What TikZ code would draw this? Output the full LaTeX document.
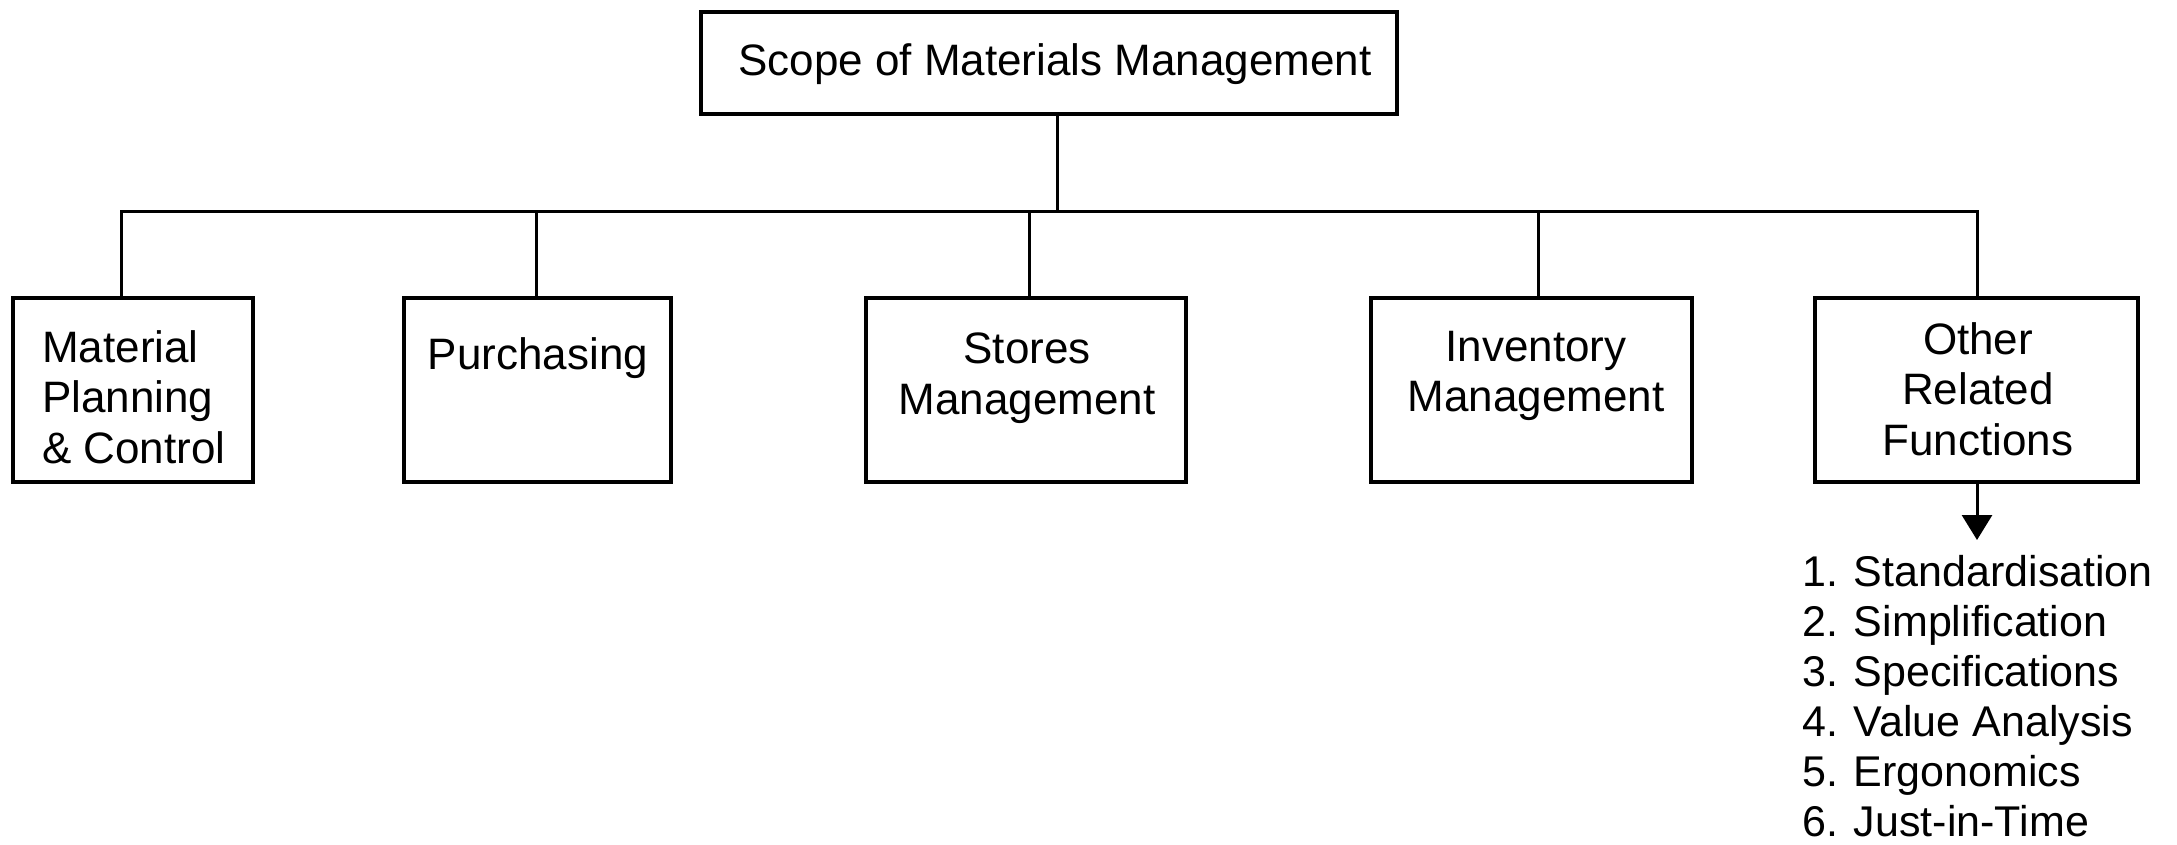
\documentclass[tikz,border=0pt]{standalone}
\usepackage{fontspec}
\setmainfont{Liberation Sans}
\usetikzlibrary{arrows.meta}
\tikzset{
  box/.style={draw, line width=3.2pt, inner sep=0pt, minimum height=184pt},
  lbl/.style={inner sep=0pt, font=\fontsize{44}{50.5}\selectfont},
  conn/.style={line width=3pt},
}
\begin{document}
\begin{tikzpicture}[x=1pt,y=-1pt]
\useasboundingbox (0,0) rectangle (2177,844);
% top box
\node[box, minimum width=696pt, minimum height=102pt] (top) at (1049,63) {};
\node[lbl, anchor=north] (toplbl) at (1055,43) {Scope of Materials Management};
% child boxes
\node[box, minimum width=240pt] (b1) at (133,390) {};
\node[box, minimum width=267pt] (b2) at (537.5,390) {};
\node[box, minimum width=320pt] (b3) at (1026,390) {};
\node[box, minimum width=321pt] (b4) at (1531.5,390) {};
\node[box, minimum width=323pt] (b5) at (1976.5,390) {};
% labels
\node[lbl, anchor=north west, align=left] (l1) at (42,330) {Material\\Planning\\\& Control};
\node[lbl, anchor=north] (l2) at (538,337) {Purchasing};
\node[lbl, anchor=north, align=center] (l3) at (1027,333) {Stores\\Management};
\node[lbl, anchor=north, align=center] (l4) at (1536,331) {Inventory\\Management};
\node[lbl, anchor=north, align=center] (l5) at (1978,322) {Other\\Related\\Functions};
% connectors
\coordinate (bus) at (1057,211);
\coordinate (tdrop) at ([xshift=8pt]top.south);
\coordinate (d1) at ([xshift=-12pt]b1.north);
\coordinate (d2) at ([xshift=-1pt]b2.north);
\coordinate (d3) at ([xshift=3pt]b3.north);
\coordinate (d4) at ([xshift=7pt]b4.north);
\coordinate (d5) at ([xshift=1pt]b5.north);
\draw[conn] (tdrop) -- (tdrop |- bus);
\draw[conn] (d1) -- (d1 |- bus) -- (d5 |- bus) -- (d5);
\draw[conn] (d2 |- bus) -- (d2);
\draw[conn] (d3 |- bus) -- (d3);
\draw[conn] (d4 |- bus) -- (d4);
% arrow to list
\coordinate (atip) at (1977,540);
\draw[conn, -{Triangle[length=25pt,width=30pt]}] (b5.south -| atip) -- (atip);
\node[lbl, anchor=north west, align=left, font=\fontsize{43}{50}\selectfont] (list) at (1802,555)
  {1. Standardisation\\2. Simplification\\3. Specifications\\4. Value Analysis\\5. Ergonomics\\6. Just-in-Time};
\end{tikzpicture}
\end{document}
